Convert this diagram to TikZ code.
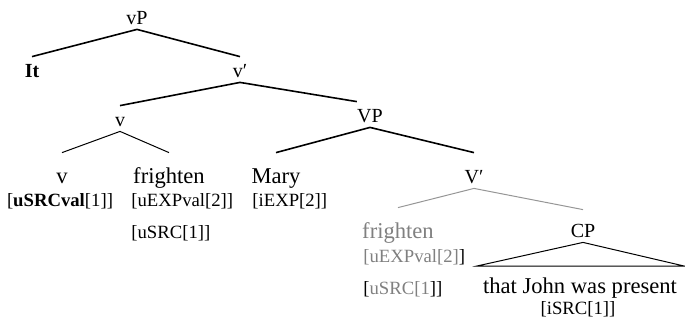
\documentclass[tikz,border=0pt]{standalone}
\usepackage{fontspec}
\setmainfont{Liberation Serif}
\usetikzlibrary{positioning,calc}
\definecolor{tracegray}{RGB}{128,128,128}
\definecolor{traceline}{RGB}{150,150,150}

\tikzset{
  cat/.style={inner sep=0pt, text height=10pt, text depth=2.5pt, anchor=base, font=\fontsize{10}{12}\selectfont},
  word/.style={cat, text height=15pt, font=\fontsize{11.3}{13}\selectfont},
  feat/.style={inner sep=0pt, anchor=base west, font=\fontsize{9.35}{11}\selectfont},
  branch/.style={line width=0.8pt},
  twig/.style={line width=0.5pt},
}

\begin{document}
\begin{tikzpicture}[x=0.5pt, y=-0.5pt]
    \useasboundingbox (0,0) rectangle (685,323);

    % Categories
    \node[cat] (vP) at (137,24) {vP};
    \node[cat, font=\fontsize{10}{12}\selectfont\bfseries] (it) at (32,77) {It};
    \node[cat] (vbar) at (240,77) {v′};
    \node[cat] (vhead) at (120,126) {v};
    \node[cat] (VP) at (370,122) {VP};
    \node[cat, text height=15pt] (Vbar) at (474,183) {V′};
    \node[cat, text height=13.5pt] (CP) at (583,237) {CP};

    % Words
    \node[word] (vlow) at (62,183) {v};
    \node[word] (frt) at (169,183) {frighten};
    \node[word] (mary) at (276,183) {Mary};
    \node[word, text=tracegray] (frtgray) at (398,238) {frighten};
    \node[word] (clause) at (580,293) {that John was present};

    % Features
    \node[feat, anchor=base] (fv) at (60,206) {[\textbf{uSRCval}[1]]};
    \node[feat] (fexp) at (131,206) {[uEXPval[2]]};
    \node[feat] (fsrc) at (131,238) {[uSRC[1]]};
    \node[feat] (fmary) at (252,206) {[iEXP[2]]};
    \node[feat] (fexpgray) at (363,262) {{\color{tracegray}[uEXPval[2]}]};
    \node[feat] (fsrcgray) at (363,294) {[{\color{tracegray}uSRC[1}]]};
    \node[feat, anchor=base] (fclause) at (578,314) {[iSRC[1]]};

    % Branches
    \draw[branch] (vP.south) -- (it.north);
    \draw[branch] (vP.south) -- (vbar.north);
    \draw[branch] (vbar.south) -- (vhead.north);
    \draw[branch] (vbar.south) -- (VP.north west);
    \draw[twig] (vhead.south) -- (vlow.north);
    \draw[twig] (vhead.south) -- (frt.north);
    \draw[branch] (VP.south) -- (mary.north);
    \draw[branch] (VP.south) -- (Vbar.north);
    \draw[twig, traceline] (Vbar.south) -- (frtgray.north);
    \draw[twig, traceline] (Vbar.south) -- (CP.north);

    % Triangle over the clause
    \coordinate (cpleft) at (477,266);
    \coordinate (cpright) at (684,266);
    \draw[twig] (CP.south) -- (cpleft) -- (cpright) -- cycle;
\end{tikzpicture}
\end{document}
